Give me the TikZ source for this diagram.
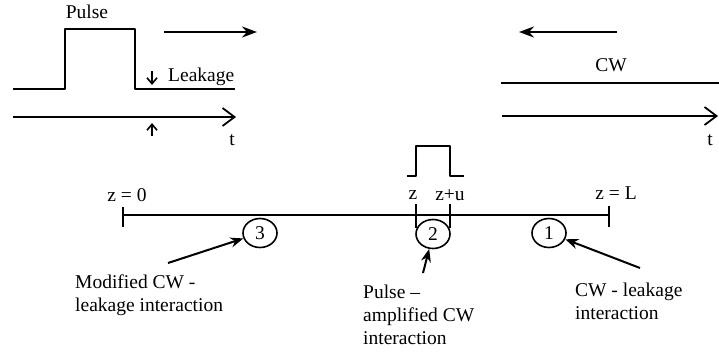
\documentclass[tikz,border=0pt]{standalone}
\usepackage{fontspec}
\setmainfont{Liberation Serif}
\usetikzlibrary{arrows.meta,shapes.geometric}
\tikzset{
  every picture/.style={line join=round, >=Stealth},
  wave/.style={line width=2pt},
  fibre/.style={line width=1.8pt},
  dirarrow/.style={line width=2.2pt,-{Stealth[length=15pt,width=11pt]}},
  timeaxis/.style={line width=1.8pt,-{Straight Barb[length=12pt,width=18pt,line width=1.8pt]}},
  tickmark/.style={line width=1.6pt,-{Straight Barb[length=6pt,width=10pt]}},
  region/.style={ellipse,draw,line width=1.6pt,minimum width=34pt,minimum height=29pt,inner sep=0pt},
  pointer/.style={line width=2pt,-{Stealth[length=13pt,width=10pt]}},
  lbl/.style={inner sep=0pt},
  note/.style={inner sep=0pt,align=left,anchor=west},
}

\begin{document}
\begin{tikzpicture}[x=1pt,y=-1pt,font=\fontsize{19.5}{23}\selectfont]
\useasboundingbox (0,0) rectangle (719,356);
% pulse travelling forward
\draw[wave](13,89)--(65,89)--(65,29)--(135,29)--(135,89)--(235,89);
\node[lbl](pulse) at (87,12){Pulse};
\coordinate(pa) at (164,32); \coordinate(pb) at (257,32);
\draw[dirarrow](pa)--(pb);
\node[lbl,anchor=west](leak) at (168,77){Leakage};
\coordinate(la) at (152,71); \coordinate(lb) at (152,85);
\draw[tickmark](la)--(lb);
\coordinate(ta) at (13,117); \coordinate(tb) at (236,117);
\draw[timeaxis](ta)--(tb);
\coordinate(ua) at (152,136); \coordinate(ub) at (152,123);
\draw[tickmark](ua)--(ub);
\node[lbl](tpulse) at (232,140){t};
% CW travelling backward
\coordinate(ca) at (617,32); \coordinate(cb) at (519,32);
\draw[dirarrow](ca)--(cb);
\node[lbl](cw) at (611,65){CW};
\draw[wave](501,83)--(719,83);
\coordinate(sa) at (502,116); \coordinate(sb) at (718,116);
\draw[timeaxis](sa)--(sb);
\node[lbl](tcw) at (710,140){t};
% fibre
\coordinate(z0) at (123,215); \coordinate(zL) at (609,215);
\draw[fibre](z0)--(zL);
\draw[fibre](123,207)--(123,227) (609,206)--(609,227);
\node[lbl](lz0) at (127,195){z = 0};
\node[lbl](lzL) at (616,193){z = L};
\draw[wave](407,176)--(416,176)--(416,146)--(450,146)--(450,176)--(464,176);
\draw[fibre](416,204)--(416,228) (450,204)--(450,228);
\node[lbl](lz) at (413,195){z};
\node[lbl](lzu) at (450,195){z+u};
% interaction regions
\node[region](c3) at (260,233){3};
\node[region](c2) at (433,234){2};
\node[region](c1) at (549,233){1};
\node[note](n3) at (75,295){Modified CW -\\leakage interaction};
\node[note](n2) at (363,315){Pulse --\\amplified CW\\interaction};
\node[note](n1) at (575,301){CW - leakage\\interaction};
\coordinate(p3) at (168,263); \coordinate(p2) at (423,273); \coordinate(p1) at (640,268);
\draw[pointer](p3)--(c3);
\draw[pointer](p2)--(c2);
\draw[pointer](p1)--(c1);
\end{tikzpicture}
\end{document}
